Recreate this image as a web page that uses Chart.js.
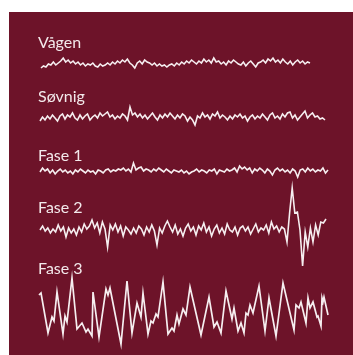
<!DOCTYPE html>
<html>
<head>
<meta charset="utf-8">
<script src="https://cdn.jsdelivr.net/npm/chart.js@4.4.1/dist/chart.umd.min.js"></script>
<style>
  html, body { margin: 0; padding: 0; background: #ffffff; }
  #wrap { position: relative; width: 353px; height: 355px; overflow: hidden; }
  #panel { position: absolute; left: 9px; top: 12px; width: 344px; height: 343px; background: #6d1329; }
  #c { position: absolute; left: 0; top: 0; }
  .lbl { position: absolute; left: 38px; font-family: Lato, "Open Sans", sans-serif; font-size: 16px; line-height: normal; color: #f3e9eb; white-space: nowrap; }
</style>
</head>
<body>
<div id="wrap">
  <div id="panel"></div>
  <canvas id="c" width="353" height="355"></canvas>
</div>
<script>
// ---- DATA ----
const stages = ["Vågen", "Søvnig", "Fase 1", "Fase 2", "Fase 3"];

// Recording spans (time units) for the evenly sampled traces
const vaagenSpan = [2, 271];
const sovnigSpan = [1, 286];
const fase1Span  = [1, 289];
const fase2Span  = [1, 287];

const vaagen = [-4,-2,-3,0,-1,2,-1,1,3,6,2,4,1,3,0,2,-1,1,-2,0,-1,1,-2,-3,0,-2,-1,1,-1,2,0,3,1,4,2,5,1,-1,-4,1,3,0,4,2,1,-1,1,-2,0,-2,-1,-3,-1,0,-2,1,-1,2,0,3,1,4,2,0,3,1,5,2,4,1,6,2,3,0,2,-1,3,1,4,2,0,-1,2,-2,1,3,0,-3,1,2,4,1,5,3,6,2,4,1,5,2,0,3,-1,2,4,1,3,0,2,1];

const sovnig = [-3,1,-2,2,-1,3,0,-3,2,4,-1,3,1,5,0,-2,3,-1,2,4,-2,1,3,0,5,2,4,6,1,3,-1,2,0,4,2,-2,11,3,5,1,4,0,3,-1,2,5,1,-2,3,0,4,1,5,2,-1,3,0,4,2,-3,1,-2,-7,2,0,5,1,3,-1,4,2,6,0,3,1,-2,2,-1,3,1,4,0,2,-3,1,3,-1,2,0,4,1,-2,3,5,0,2,-1,4,1,5,6,0,3,-2,1,4,7,0,3,5,1,2,-1,0,-2];

const fase1 = [-1,3,0,2,-2,1,-3,0,2,-1,1,-2,0,-3,1,-1,2,0,-2,1,-1,0,-3,1,0,-2,1,2,-1,1,0,2,1,3,0,2,-1,8,1,3,4,0,2,1,-1,2,0,3,1,-1,2,0,-2,1,0,-1,1,-2,0,-3,-1,0,2,-1,1,0,-2,1,0,2,-3,1,0,-1,2,0,1,3,-1,5,2,4,1,3,-2,2,0,3,1,-2,2,0,-4,1,3,0,2,-1,1,-2,2,0,-6,1,2,-1,3,0,2,-1,1,0,3,-2,1];

const fase2 = [0,4,-1,2,-3,1,-2,5,-1,3,-7,2,-3,1,-5,3,-2,6,1,4,10,2,7,-3,8,1,-17,5,0,6,-2,4,-6,3,0,-4,2,-3,4,1,-5,3,-2,5,-1,-15,2,-3,4,9,3,-2,5,-4,1,-6,2,6,-1,3,-5,4,0,7,-2,3,-6,1,5,-3,2,-4,6,0,-2,3,-5,2,4,-1,3,-4,1,6,-2,2,0,5,-3,8,1,4,-2,3,1,-12,17,42,17,18,0,-36,-2,-17,2,-12,5,-5,8,7,11];

// Fase 3: slow waves, irregular sample times
const fase3Time = [0,2,9,13,15,18,24,26,28,33,38,43,47,49,53,54,60,67,69,71,82,88,93,98,102,104,109,112,114,117,119,124,129,133,135,138,140,144,147,151,162,170,175,178,182,187,193,195,199,202,205,207,209,211,214,220,226,230,237,244,255,257,260,262,267,269,271,274,278,279,282,283,284,285,289];
const fase3 = [17,19,-21,-5,-9,20,-22,-4,-10,34,-17,-11,-20,-17,-24,20,-25,23,17,24,-32,31,-21,9,-5,19,-22,-9,-11,-2,-5,30,-22,-16,-19,-3,-12,3,-3,25,-23,15,-15,-10,-21,21,-7,4,-19,-11,-21,-1,-3,7,-1,26,-19,14,-24,29,-18,7,4,10,-11,14,4,10,-5,-4,-14,14,10,15,-3];

// ---- LAYOUT ----
const baselines = [291, 237, 184, 125, 43];   // vertical offsets of each trace on the y scale
const labelTops = [32, 86, 145, 197, 258];     // label top positions (px)

function even(vals, span, offset) {
  const step = (span[1] - span[0]) / (vals.length - 1);
  return vals.map((v, i) => ({ x: span[0] + i * step, y: v + offset }));
}
function timed(times, vals, offset) {
  return vals.map((v, i) => ({ x: times[i], y: v + offset }));
}

const lineColor = "#f6eef0";
const series = [
  even(vaagen, vaagenSpan, baselines[0]),
  even(sovnig, sovnigSpan, baselines[1]),
  even(fase1, fase1Span, baselines[2]),
  even(fase2, fase2Span, baselines[3]),
  timed(fase3Time, fase3, baselines[4])
];

const datasets = series.map((d, i) => ({
  label: stages[i],
  data: d,
  borderColor: lineColor,
  borderWidth: i === 4 ? 1.7 : 1.6,
  pointRadius: 0,
  tension: 0,
  fill: false,
  clip: false
}));

new Chart(document.getElementById("c"), {
  type: "line",
  data: { datasets },
  options: {
    responsive: false,
    animation: false,
    layout: { padding: 0 },
    plugins: { legend: { display: false }, tooltip: { enabled: false } },
    scales: {
      x: { type: "linear", min: -39, max: 314, display: false },
      y: { type: "linear", min: 0, max: 355, display: false }
    }
  }
});

const wrap = document.getElementById("wrap");
stages.forEach((s, i) => {
  const d = document.createElement("div");
  d.className = "lbl";
  d.style.top = labelTops[i] + "px";
  d.textContent = s;
  wrap.appendChild(d);
});
</script>
</body>
</html>
